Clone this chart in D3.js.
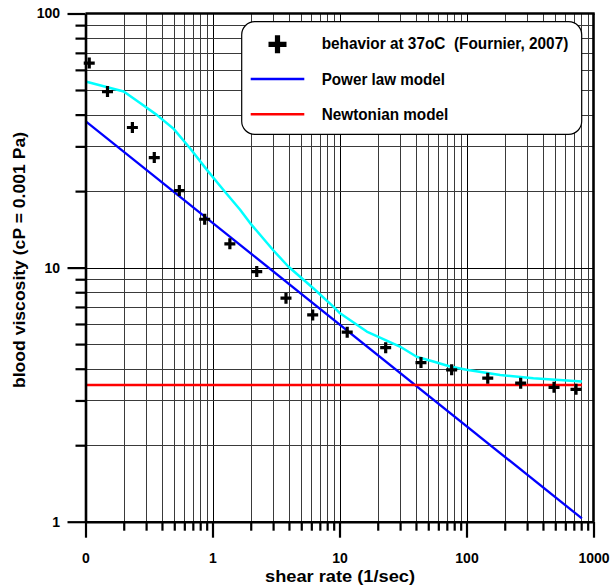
<!DOCTYPE html>
<html>
<head>
<meta charset="utf-8">
<script src="https://cdn.jsdelivr.net/npm/d3@7"></script>
<style>
  html, body { margin: 0; padding: 0; background: #fff; }
  svg { display: block; }
  text { font-family: "Liberation Sans", Arial, Helvetica, sans-serif; font-weight: bold; fill: #000; }
</style>
</head>
<body>
<svg id="chart" width="610" height="588"></svg>
<script>
// Measured blood viscosity at 37 °C (Fournier, 2007)
const shearRate = [0.107, 0.149, 0.234, 0.348, 0.548, 0.868, 1.37, 2.23, 3.79, 6.15, 11.5, 23.1, 43.8, 76.4, 147, 267, 489, 728];
const viscosity = [63.8, 49.3, 35.6, 27.1, 20.1, 15.5, 12.4, 9.65, 7.58, 6.51, 5.57, 4.84, 4.23, 3.96, 3.67, 3.51, 3.38, 3.32];

// Power law model (straight line on log-log axes)
const powerLawRate = [0.1, 810];
const powerLawVisc = [37.7, 1.03];

// Newtonian model (constant viscosity)
const newtonRate = [0.1, 810];
const newtonVisc = [3.45, 3.45];

// Shear-thinning fit curve
const fitRate = [0.1, 0.2, 0.269, 0.364, 0.491, 0.665, 0.900, 1.22, 1.65, 1.97, 3.01, 3.95, 6.22, 8.94, 10.1, 16.4, 29.9, 40.5, 54.8, 74.2, 100, 184, 336, 810];
const fitVisc = [54.0, 49.3, 44.4, 39.9, 35.3, 29.5, 24.3, 20.2, 16.9, 15.0, 11.7, 10.1, 8.29, 7.02, 6.61, 5.60, 4.89, 4.46, 4.27, 4.08, 3.96, 3.78, 3.67, 3.56];

// Axis ticks
const xMajorTicks = [0.1, 1, 10, 100, 1000];
const xTickLabels = ["0", "1", "10", "100", "1000"];
const yMajorTicks = [1, 10, 100];
const yTickLabels = ["1", "10", "100"];

const legendLabels = ["behavior at 37oC  (Fournier, 2007)", "Power law model", "Newtonian model"];

const svg = d3.select("#chart");
const plotLeft = 85.5, plotRight = 593.5, plotTop = 13.5, plotBottom = 521.7;

const x = d3.scaleLog().domain([0.1, 1000]).range([plotLeft, plotRight]);
const y = d3.scaleLog().domain([1, 100]).range([plotBottom, plotTop]);

// minor positions: 2..9 of each decade
function minors(lo, hi) {
  const out = [];
  for (let d = lo; d < hi; d *= 10) for (let k = 2; k <= 9; k++) out.push(+(k * d).toPrecision(3));
  return out;
}
const xMinor = minors(0.1, 1000);
const yMinor = minors(1, 100);

// grid
const grid = svg.append("g").attr("shape-rendering", "crispEdges");
grid.selectAll("line.vx").data(xMinor.concat([1, 10, 100])).join("line")
  .attr("x1", d => Math.round(x(d)) + 0.5).attr("x2", d => Math.round(x(d)) + 0.5)
  .attr("y1", plotTop).attr("y2", plotBottom)
  .attr("stroke", d => xMajorTicks.includes(d) ? "#000" : "#3a3a3a").attr("stroke-width", 1);
grid.selectAll("line.hy").data(yMinor.concat([10])).join("line")
  .attr("y1", d => Math.round(y(d)) + 0.5).attr("y2", d => Math.round(y(d)) + 0.5)
  .attr("x1", plotLeft).attr("x2", plotRight)
  .attr("stroke", d => yMajorTicks.includes(d) ? "#000" : "#3a3a3a").attr("stroke-width", 1);

// legend box (drawn over the grid)
const legend = svg.append("g");
legend.append("rect")
  .attr("x", 241.7).attr("y", 21.7).attr("width", 340).attr("height", 112.6)
  .attr("rx", 13).attr("ry", 13)
  .attr("fill", "#fff").attr("stroke", "#000").attr("stroke-width", 1.2);

// curves
const line = d3.line().x(d => x(d[0])).y(d => y(d[1]));
const plot = svg.append("g");
plot.append("path").datum(d3.zip(fitRate, fitVisc))
  .attr("d", line).attr("fill", "none").attr("stroke", "#00ffff").attr("stroke-width", 2.5)
  .attr("stroke-linejoin", "round");
plot.append("path").datum(d3.zip(powerLawRate, powerLawVisc))
  .attr("d", line).attr("fill", "none").attr("stroke", "#0000ff").attr("stroke-width", 2.3);
plot.append("path").datum(d3.zip(newtonRate, newtonVisc))
  .attr("d", line).attr("fill", "none").attr("stroke", "#ff0000").attr("stroke-width", 2.5);

// measured points drawn as plus-shaped crosses
function crossPath(size, arm) {
  const h = size / 2, a = arm / 2;
  return `M${-h},${-a}H${-a}V${-h}H${a}V${-a}H${h}V${a}H${a}V${h}H${-a}V${a}H${-h}Z`;
}
plot.selectAll("path.pt").data(d3.zip(shearRate, viscosity)).join("path")
  .attr("class", "pt")
  .attr("transform", d => `translate(${x(d[0])},${y(d[1])})`)
  .attr("d", crossPath(11, 3.2)).attr("fill", "#000");

// axes
const axisY = svg.append("g").attr("transform", `translate(${plotLeft},0)`)
  .call(d3.axisLeft(y).tickValues(yMajorTicks).tickSize(18).tickSizeOuter(0).tickPadding(7.5)
    .tickFormat((d, i) => yTickLabels[i]));
const axisYMinor = svg.append("g").attr("transform", `translate(${plotLeft},0)`)
  .call(d3.axisLeft(y).tickValues(yMinor).tickSize(10).tickSizeOuter(0).tickFormat(""));
const axisX = svg.append("g").attr("transform", `translate(0,${plotBottom})`)
  .call(d3.axisBottom(x).tickValues(xMajorTicks).tickSize(16).tickSizeOuter(0).tickPadding(15)
    .tickFormat((d, i) => xTickLabels[i]));
const axisXMinor = svg.append("g").attr("transform", `translate(0,${plotBottom})`)
  .call(d3.axisBottom(x).tickValues(xMinor).tickSize(9).tickSizeOuter(0).tickFormat(""));

[axisY, axisYMinor, axisX, axisXMinor].forEach(g => {
  g.select(".domain").attr("stroke", "#000").attr("stroke-width", 2.6);
  g.selectAll(".tick line").attr("stroke", "#000").attr("stroke-width", 2.2);
  g.selectAll(".tick text").attr("font-size", 14).attr("font-family", null).attr("font-weight", "bold").attr("fill", "#000");
});
axisYMinor.select(".domain").remove();
axisXMinor.select(".domain").remove();

// top and right frame
svg.append("line").attr("x1", plotLeft).attr("x2", plotRight + 1.2).attr("y1", plotTop).attr("y2", plotTop)
  .attr("stroke", "#000").attr("stroke-width", 2.6);
svg.append("line").attr("x1", plotRight).attr("x2", plotRight).attr("y1", plotTop).attr("y2", plotBottom)
  .attr("stroke", "#000").attr("stroke-width", 2.6);

// legend entries
legend.append("path").attr("transform", "translate(277.5,44.3)")
  .attr("d", crossPath(18, 5.2)).attr("fill", "#000");
legend.append("line").attr("x1", 250.7).attr("x2", 304.3).attr("y1", 79).attr("y2", 79)
  .attr("stroke", "#0000ff").attr("stroke-width", 2.3);
legend.append("line").attr("x1", 250.7).attr("x2", 304.3).attr("y1", 114.3).attr("y2", 114.3)
  .attr("stroke", "#ff0000").attr("stroke-width", 2.5);
const legendBaselines = [49.3, 85, 120];
const legendWidths = [246.6, 123.3, 126.6];
legend.selectAll("text").data(legendLabels).join("text")
  .attr("x", 321.7).attr("y", (d, i) => legendBaselines[i])
  .attr("font-size", 16).style("white-space", "pre")
  .attr("textLength", (d, i) => legendWidths[i]).attr("lengthAdjust", "spacingAndGlyphs")
  .text(d => d);

// axis titles
svg.append("text").attr("x", 340).attr("y", 581.7).attr("text-anchor", "middle")
  .attr("font-size", 16).attr("textLength", 150).attr("lengthAdjust", "spacingAndGlyphs")
  .text("shear rate (1/sec)");
svg.append("text").attr("transform", "translate(25,260) rotate(-90)").attr("text-anchor", "middle")
  .attr("font-size", 16).attr("textLength", 256).attr("lengthAdjust", "spacingAndGlyphs")
  .text("blood viscosity (cP = 0.001 Pa)");
</script>
</body>
</html>
